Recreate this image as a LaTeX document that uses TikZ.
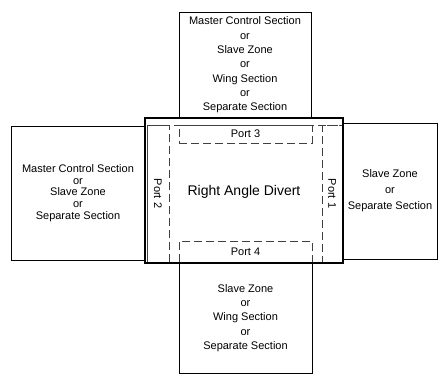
\documentclass[tikz,border=0pt]{standalone}
\usepackage{fontspec}
\setmainfont{Liberation Sans}
\usetikzlibrary{positioning}

\begin{document}
\begin{tikzpicture}[
    x=1pt, y=-1pt,
    zone/.style={rectangle, draw, line width=0.7pt, inner sep=0pt, align=center, font=\fontsize{11}{14.3}\selectfont},
    port/.style={rectangle, draw=black!75, dash pattern=on 8pt off 4pt, line width=0.8pt, inner sep=0pt, font=\fontsize{11}{13}\selectfont},
    divert/.style={rectangle, draw, line width=1.6pt, inner sep=0pt, font=\fontsize{14}{16}\selectfont},
]
\useasboundingbox[fill=white] (0,0) rectangle (438,374);

% outer zones round the divert
\node[zone, minimum width=132pt, minimum height=106pt] (topzone) at (245,65)
    {Master Control Section\\or\\Slave Zone\\or\\Wing Section\\or\\Separate Section};
\node[zone, minimum width=134pt, minimum height=134pt, font=\fontsize{11}{11.7}\selectfont] (leftzone) at (78,193)
    {Master Control Section\\or\\Slave Zone\\or\\Separate Section};
\node[zone, minimum width=94pt, minimum height=136pt, font=\fontsize{11}{16}\selectfont] (rightzone) at (390,191)
    {Slave Zone\\or\\Separate Section};
\node[zone, minimum width=133pt, minimum height=110pt] (bottomzone) at (245.5,318)
    {Slave Zone\\or\\Wing Section\\or\\Separate Section};

% the divert and its ports
\node[port, minimum width=195pt, minimum height=137pt] (frame) at (244.5,193.5) {};
\node[port, minimum width=137pt, minimum height=22pt, rotate=-90] (port2) at (158,193.5) {Port 2};
\node[port, minimum width=137pt, minimum height=20pt, rotate=-90] (port1) at (332,193.5) {Port 1};
\node[port, minimum width=133pt, minimum height=18pt] (port3) at (245.5,134) {Port 3};
\node[port, minimum width=133pt, minimum height=21pt] (port4) at (245.5,251.5) {Port 4};
\node[divert, minimum width=198pt, minimum height=145pt] (rad) at (244,190.5) {};
\node[font=\fontsize{14}{16}\selectfont] (radlabel) at (244,192) {Right Angle Divert};
\end{tikzpicture}
\end{document}
